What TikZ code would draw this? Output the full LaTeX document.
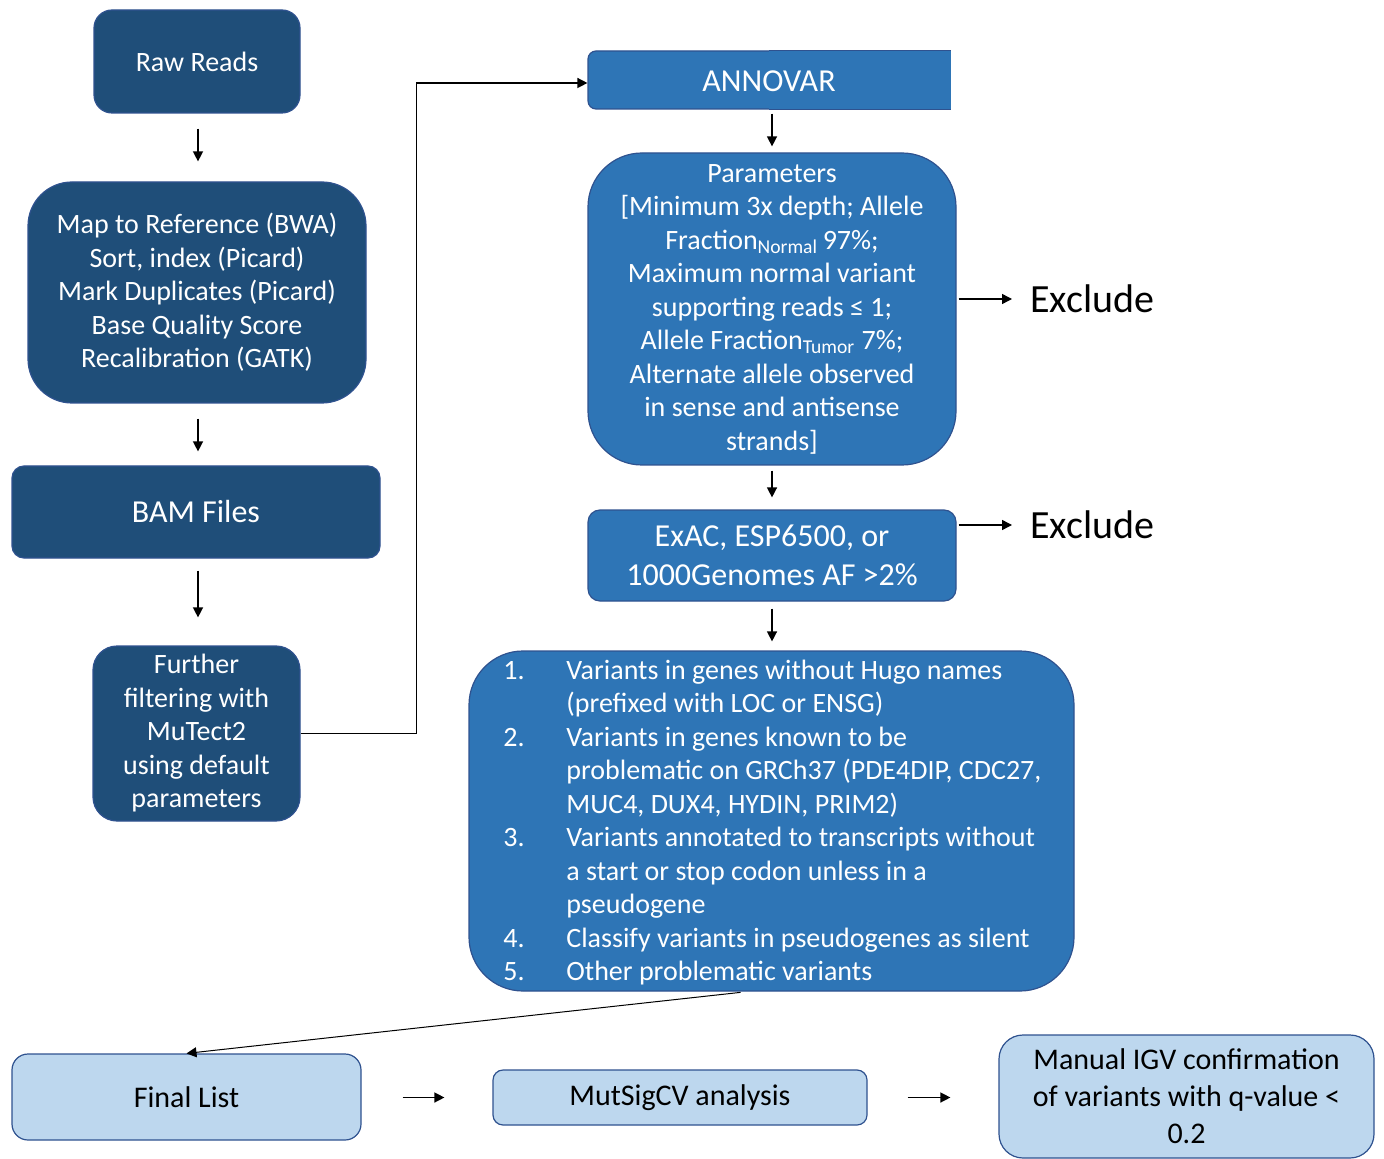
\documentclass[tikz,border=0pt]{standalone}
\usepackage{fontspec}
\setmainfont{Carlito}
\usetikzlibrary{arrows.meta}
\definecolor{darkbox}{HTML}{1F4E79}
\definecolor{midbox}{HTML}{2E75B6}
\definecolor{lightbox}{HTML}{BDD7EE}
\definecolor{boxline}{HTML}{2F528F}
\tikzset{
  base/.style={rectangle, draw=boxline, line width=0.6pt, inner sep=0pt, align=center},
  darkstyle/.style={base, fill=darkbox, text=white},
  midstyle/.style={base, fill=midbox, text=white},
  lightstyle/.style={base, fill=lightbox, text=black},
  fA/.style={font=\fontsize{14}{16.75}\selectfont},
  fB/.style={font=\fontsize{16}{19.5}\selectfont},
  fC/.style={font=\fontsize{15}{18.5}\selectfont},
  fX/.style={font=\fontsize{20}{23}\selectfont},
  arr/.style={line width=0.7pt, -{Triangle[length=5pt,width=5pt]}},
}
\begin{document}
\begin{tikzpicture}[x=0.5pt,y=-0.5pt]
\useasboundingbox (0,0) rectangle (1384,1159);
% left column
\node[darkstyle, fA, minimum width=103pt, minimum height=51.5pt, rounded corners=9pt] (raw) at (197,61.5) {Raw Reads};
\node[darkstyle, fA, minimum width=169pt, minimum height=110.5pt, rounded corners=22pt] (map) at (197,292.5)
  {Map to Reference (BWA)\\Sort, index (Picard)\\Mark Duplicates (Picard)\\Base Quality Score\\Recalibration (GATK)};
\node[darkstyle, fB, minimum width=184pt, minimum height=46pt, rounded corners=6pt] (bam) at (196,512) {BAM Files};
\node[darkstyle, fA, minimum width=103.5pt, minimum height=87.5pt, rounded corners=12pt] (further) at (196.5,733.5)
  {Further\\filtering with\\MuTect2\\using default\\parameters};
% right column
\node[midstyle, fB, minimum width=181pt, minimum height=29pt, rounded corners=4pt] (annovar) at (769,80) {};
\fill[midbox] (annovar.north) rectangle (annovar.south east);
\draw[boxline, line width=0.6pt] (annovar.north) -- (annovar.north east);
\draw[boxline, line width=0.6pt] (annovar.south) -- (annovar.south east);
\node[fB, text=white, inner sep=0pt] (annovartext) at ([yshift=-0.5pt]annovar.center) {ANNOVAR};
\node[midstyle, fA, minimum width=184pt, minimum height=156pt, rounded corners=27pt] (params) at (772,309)
  {Parameters\\
   {[}Minimum 3x depth; Allele\\
   Fraction\textsubscript{Normal}\,97\%;\\
   Maximum normal variant\\
   supporting reads ≤ 1;\\
   Allele Fraction\textsubscript{Tumor} 7\%;\\
   Alternate allele observed\\
   in sense and antisense\\
   strands{]}};
\node[midstyle, fB, minimum width=184pt, minimum height=45.5pt, rounded corners=6pt] (exac) at (772,555.5)
  {ExAC, ESP6500, or\\1000Genomes AF >2\%};
\node[midstyle, minimum width=302.5pt, minimum height=170pt, rounded corners=27pt] (list) at (771.5,821) {};
\node[fA, text=white, align=left, inner sep=0pt, anchor=west] (listtext) at (503,822.5)
  {\makebox[31.5pt][l]{1.}Variants in genes without Hugo names\\
   \hspace*{31.5pt}(prefixed with LOC or ENSG)\\
   \makebox[31.5pt][l]{2.}Variants in genes known to be\\
   \hspace*{31.5pt}problematic on GRCh37 (PDE4DIP, CDC27,\\
   \hspace*{31.5pt}MUC4, DUX4, HYDIN, PRIM2)\\
   \makebox[31.5pt][l]{3.}Variants annotated to transcripts without\\
   \hspace*{31.5pt}a start or stop codon unless in a\\
   \hspace*{31.5pt}pseudogene\\
   \makebox[31.5pt][l]{4.}Classify variants in pseudogenes as silent\\
   \makebox[31.5pt][l]{5.}Other problematic variants};
\node[fX, inner sep=0pt, anchor=west] (excl1) at (1030,299) {Exclude};
\node[fX, inner sep=0pt, anchor=west] (excl2) at (1030,525) {Exclude};
% bottom row
\node[lightstyle, fC, minimum width=174.5pt, minimum height=43pt, rounded corners=8pt] (final) at (186.5,1097) {Final List};
\node[lightstyle, fC, minimum width=187pt, minimum height=27.5pt, rounded corners=5pt] (mutsig) at (680,1097.5) {MutSigCV analysis};
\node[lightstyle, fC, minimum width=187.5pt, minimum height=61.5pt, rounded corners=12pt] (manual) at (1186.5,1096.5)
  {Manual IGV confirmation\\of variants with q-value <\\0.2};
% connectors
\draw[arr, shorten <=7.5pt, shorten >=10pt] ([xshift=0.5pt]raw.south) -- ([xshift=0.5pt]raw.south |- map.north);
\draw[arr, shorten <=7.5pt, shorten >=7pt] ([xshift=0.5pt]map.south) -- ([xshift=0.5pt]map.south |- bam.north);
\draw[arr, shorten <=6pt, shorten >=14pt] ([xshift=1pt]bam.south) -- ([xshift=1pt]bam.south |- further.north);
\draw[arr] (further.east) -- ++(116,0) |- ([yshift=-1.5pt]annovar.west);
\draw[arr, shorten <=2pt, shorten >=3pt] ([xshift=1.5pt]annovar.south) -- ([xshift=1.5pt]annovar.south |- params.north);
\draw[arr, shorten <=1pt, shorten >=9pt] (params.east |- excl1.west) -- (excl1.west);
\draw[arr, shorten <=2.5pt, shorten >=6pt] (params.south) -- (exac.north);
\draw[arr, shorten <=1pt, shorten >=9pt] (exac.east |- excl2.west) -- (excl2.west);
\draw[arr, shorten <=3.5pt, shorten >=4.5pt] (exac.south) -- (exac.south |- list.north);
\draw[arr, line width=0.5pt, shorten <=3.5pt] ([xshift=-12pt]list.south) -- (final.north);
\draw[arr, shorten <=20.5pt, shorten >=24pt] (final.east |- mutsig.west) -- (mutsig.west);
\draw[arr, shorten <=20pt, shorten >=24pt] (mutsig.east) -- (mutsig.east -| manual.west);
\end{tikzpicture}
\end{document}
